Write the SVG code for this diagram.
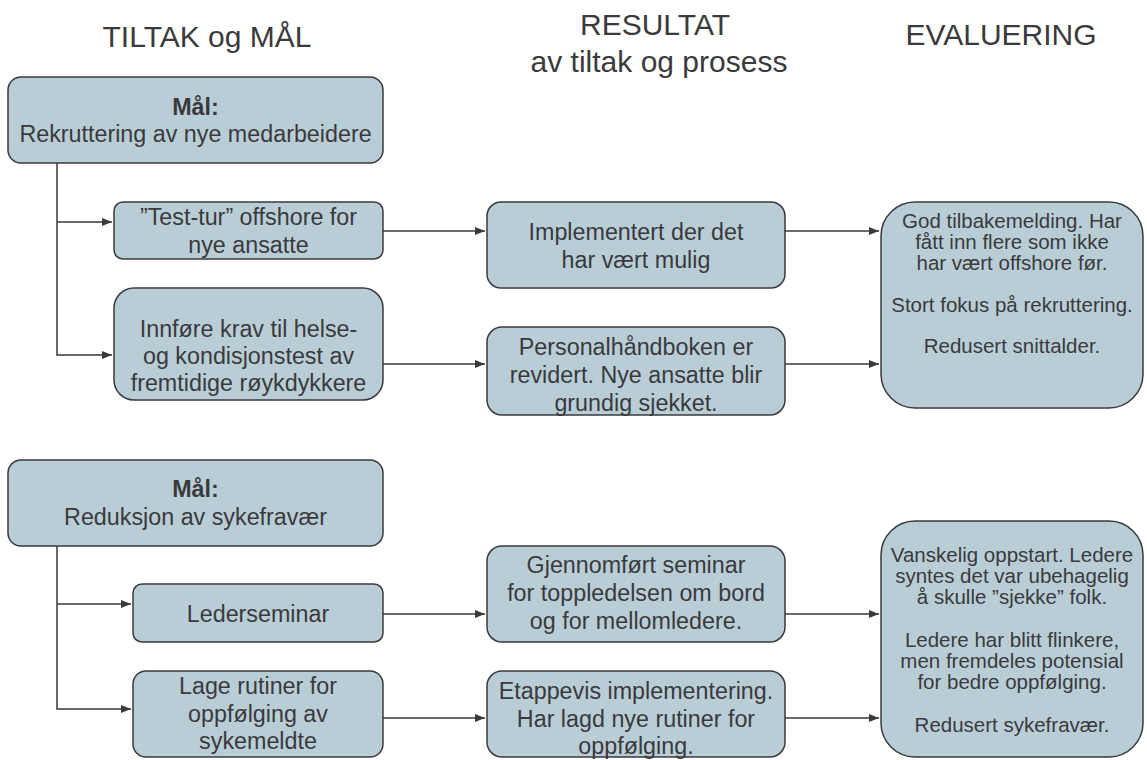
<svg xmlns="http://www.w3.org/2000/svg" width="1147" height="760" viewBox="0 0 1147 760">
  <defs>
    <marker id="arrow" viewBox="0 0 10 8" refX="10" refY="4" markerWidth="10" markerHeight="8" markerUnits="userSpaceOnUse" orient="auto">
      <path d="M0,0 L10,4 L0,8 Z" fill="#3a3a3c"/>
    </marker>
    <style>
      .box { fill: #b9cdd7; stroke: #3a3a3c; stroke-width: 1.5; }
      .t { font-family: "Liberation Sans", Arial, sans-serif; font-size: 23.3px; fill: #3a3a3c; text-anchor: middle; }
      .s { font-family: "Liberation Sans", Arial, sans-serif; font-size: 20.5px; fill: #3a3a3c; text-anchor: middle; }
      .b { font-weight: bold; }
      .h { font-family: "Liberation Sans", Arial, sans-serif; font-size: 30px; fill: #3a3a3c; text-anchor: middle; }
      .c { fill: none; stroke: #3a3a3c; stroke-width: 1.5; }
    </style>
  </defs>
  <rect width="1147" height="760" fill="#ffffff"/>

  <!-- column headings -->
  <g id="headings">
    <text class="h" x="207" y="47">TILTAK og MÅL</text>
    <text class="h" x="655" y="35">RESULTAT</text>
    <text class="h" x="659" y="72">av tiltak og prosess</text>
    <text class="h" x="1001" y="45">EVALUERING</text>
  </g>

  <!-- connectors -->
  <g id="connectors">
    <polyline class="c" points="57,163 57,355 112,355" marker-end="url(#arrow)"/>
    <line class="c" x1="57" y1="222" x2="112" y2="222" marker-end="url(#arrow)"/>
    <line class="c" x1="383" y1="231" x2="485" y2="231" marker-end="url(#arrow)"/>
    <line class="c" x1="383" y1="364" x2="485" y2="364" marker-end="url(#arrow)"/>
    <line class="c" x1="785" y1="231" x2="879" y2="231" marker-end="url(#arrow)"/>
    <line class="c" x1="785" y1="364" x2="879" y2="364" marker-end="url(#arrow)"/>

    <polyline class="c" points="57,546 57,709 131,709" marker-end="url(#arrow)"/>
    <line class="c" x1="57" y1="604" x2="131" y2="604" marker-end="url(#arrow)"/>
    <line class="c" x1="383" y1="614" x2="485" y2="614" marker-end="url(#arrow)"/>
    <line class="c" x1="383" y1="718" x2="485" y2="718" marker-end="url(#arrow)"/>
    <line class="c" x1="785" y1="614" x2="879" y2="614" marker-end="url(#arrow)"/>
    <line class="c" x1="785" y1="718" x2="879" y2="718" marker-end="url(#arrow)"/>
  </g>

  <!-- goal 1: recruitment -->
  <g id="goal-recruitment">
    <rect class="box" x="8" y="77" width="375" height="86" rx="13"/>
    <text class="t b" x="195.5" y="115">Mål:</text>
    <text class="t" x="195.5" y="142">Rekruttering av nye medarbeidere</text>
  </g>

  <g id="measure-testtur">
    <rect class="box" x="114" y="202" width="269" height="57" rx="9"/>
    <text class="t" x="248.5" y="225">”Test-tur” offshore for</text>
    <text class="t" x="248.5" y="253">nye ansatte</text>
  </g>

  <g id="measure-helsetest">
    <rect class="box" x="114" y="288" width="269" height="112" rx="20"/>
    <text class="t" x="248.5" y="337">Innføre krav til helse-</text>
    <text class="t" x="248.5" y="364">og kondisjonstest av</text>
    <text class="t" x="248.5" y="391">fremtidige røykdykkere</text>
  </g>

  <g id="result-implementert">
    <rect class="box" x="487" y="202" width="298" height="86" rx="14"/>
    <text class="t" x="636" y="240">Implementert der det</text>
    <text class="t" x="636" y="268">har vært mulig</text>
  </g>

  <g id="result-personalhandbok">
    <rect class="box" x="487" y="327" width="298" height="88" rx="15"/>
    <text class="t" x="636" y="355">Personalhåndboken er</text>
    <text class="t" x="636" y="383">revidert. Nye ansatte blir</text>
    <text class="t" x="636" y="411">grundig sjekket.</text>
  </g>

  <g id="evaluation-recruitment">
    <rect class="box" x="881" y="202" width="262" height="206" rx="34"/>
    <text class="s" x="1012" y="228">God tilbakemelding. Har</text>
    <text class="s" x="1012" y="249">fått inn flere som ikke</text>
    <text class="s" x="1012" y="270">har vært offshore før.</text>
    <text class="s" x="1012" y="312">Stort fokus på rekruttering.</text>
    <text class="s" x="1012" y="353">Redusert snittalder.</text>
  </g>

  <!-- goal 2: sick leave -->
  <g id="goal-sykefravaer">
    <rect class="box" x="8" y="460" width="375" height="86" rx="13"/>
    <text class="t b" x="195.5" y="497">Mål:</text>
    <text class="t" x="195.5" y="525">Reduksjon av sykefravær</text>
  </g>

  <g id="measure-lederseminar">
    <rect class="box" x="133" y="584" width="250" height="58" rx="9"/>
    <text class="t" x="258" y="622">Lederseminar</text>
  </g>

  <g id="measure-rutiner">
    <rect class="box" x="133" y="671" width="250" height="86" rx="13"/>
    <text class="t" x="258" y="694">Lage rutiner for</text>
    <text class="t" x="258" y="722">oppfølging av</text>
    <text class="t" x="258" y="749">sykemeldte</text>
  </g>

  <g id="result-seminar">
    <rect class="box" x="487" y="546" width="298" height="96" rx="15"/>
    <text class="t" x="636" y="573">Gjennomført seminar</text>
    <text class="t" x="636" y="601">for toppledelsen om bord</text>
    <text class="t" x="636" y="629">og for mellomledere.</text>
  </g>

  <g id="result-etappevis">
    <rect class="box" x="487" y="671" width="298" height="86" rx="15"/>
    <text class="t" x="636" y="699">Etappevis implementering.</text>
    <text class="t" x="636" y="727">Har lagd nye rutiner for</text>
    <text class="t" x="636" y="754">oppfølging.</text>
  </g>

  <g id="evaluation-sykefravaer">
    <rect class="box" x="881" y="521" width="262" height="236" rx="34"/>
    <text class="s" x="1012" y="562">Vanskelig oppstart. Ledere</text>
    <text class="s" x="1012" y="583">syntes det var ubehagelig</text>
    <text class="s" x="1012" y="604">å skulle ”sjekke” folk.</text>
    <text class="s" x="1012" y="647">Ledere har blitt flinkere,</text>
    <text class="s" x="1012" y="668">men fremdeles potensial</text>
    <text class="s" x="1012" y="689">for bedre oppfølging.</text>
    <text class="s" x="1012" y="732">Redusert sykefravær.</text>
  </g>
</svg>
